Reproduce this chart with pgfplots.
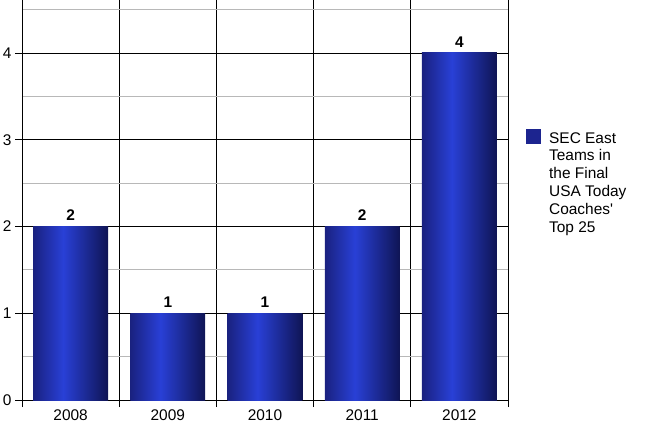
\documentclass[border=0pt]{standalone}
\usepackage{fontspec}
\setmainfont{Liberation Sans}[Ligatures=TeXOff]
\usepackage{pgfplots}
\pgfplotsset{compat=1.18}

\definecolor{barL}{rgb}{0.10,0.13,0.50}
\definecolor{barM}{rgb}{0.16,0.25,0.84}
\definecolor{barR}{rgb}{0.06,0.08,0.33}
\definecolor{barKey}{rgb}{0.11,0.14,0.56}
% horizontal gradient of each bar: dark edges, bright band left of centre
\pgfdeclarehorizontalshading{barshade}{100bp}{%
  color(0bp)=(barL); color(25bp)=(barL); color(45bp)=(barM);
  color(75bp)=(barR); color(100bp)=(barR)}

\newcommand{\lblfont}{\fontsize{15.5}{18}\selectfont}

\pgfplotsset{
  onebar/.style={draw=none, shading=barshade, bar shift=0pt},
}

\begin{document}
\begin{tikzpicture}
\begin{axis}[
  scale only axis, width=486bp, height=400bp,
  xmin=-0.5, xmax=4.5, ymin=0, ymax=4.61,
  axis x line*=bottom, axis y line*=left,
  axis line style={black, line width=0.8pt},
  /pgf/number format/assume math mode=true,
  ticklabel style={font=\lblfont},
  tick align=outside, major tick length=7bp, minor tick length=0pt,
  tick style={black, line width=0.8pt},
  xtick={-0.5,0.5,...,4.5}, xticklabels={},
  extra x ticks={0,1,2,3,4},
  extra x tick labels={2008,2009,2010,2011,2012},
  extra x tick style={major tick length=0pt, grid=none,
    xticklabel style={yshift=-6bp}},
  ytick={0,1,2,3,4}, minor ytick={0.5,1.5,2.5,3.5,4.5},
  xmajorgrids, ymajorgrids, yminorgrids,
  major grid style={black, line width=0.8pt},
  minor grid style={black!28, line width=0.8pt},
  ybar, bar width=0.77, bar shift=0pt,
  nodes near coords,
  nodes near coords style={font=\lblfont\bfseries, black, yshift=2bp},
  legend style={draw=none, fill=none, at={(1.037,0.6775)}, anchor=north west,
    inner sep=0pt, font=\lblfont, cells={align=left}},
  % solid key square, set with basic-layer commands so the bar gradient is not used
  legend image code/.code={%
    \pgfsetfillcolor{barKey}%
    \pgfpathrectangle{\pgfqpoint{0bp}{39bp}}{\pgfqpoint{15bp}{15bp}}%
    \pgfusepath{fill}%
    \path (21bp,39bp);},
]
\coordinate (o) at (rel axis cs:0,0);
% one plot per season so that every bar gets its own gradient
\addplot[onebar] coordinates {(0,2)};
\addlegendentry{SEC East\\Teams in\\the Final\\USA Today\\Coaches'\\Top 25}
\addplot[onebar, forget plot] coordinates {(1,1)};
\addplot[onebar, forget plot] coordinates {(2,1)};
\addplot[onebar, forget plot] coordinates {(3,2)};
\addplot[onebar, forget plot] coordinates {(4,4)};
\end{axis}
\pgfresetboundingbox
\path[use as bounding box] (o) ++(-22bp,-32bp) rectangle ++(649bp,432bp);
\end{tikzpicture}
\end{document}
